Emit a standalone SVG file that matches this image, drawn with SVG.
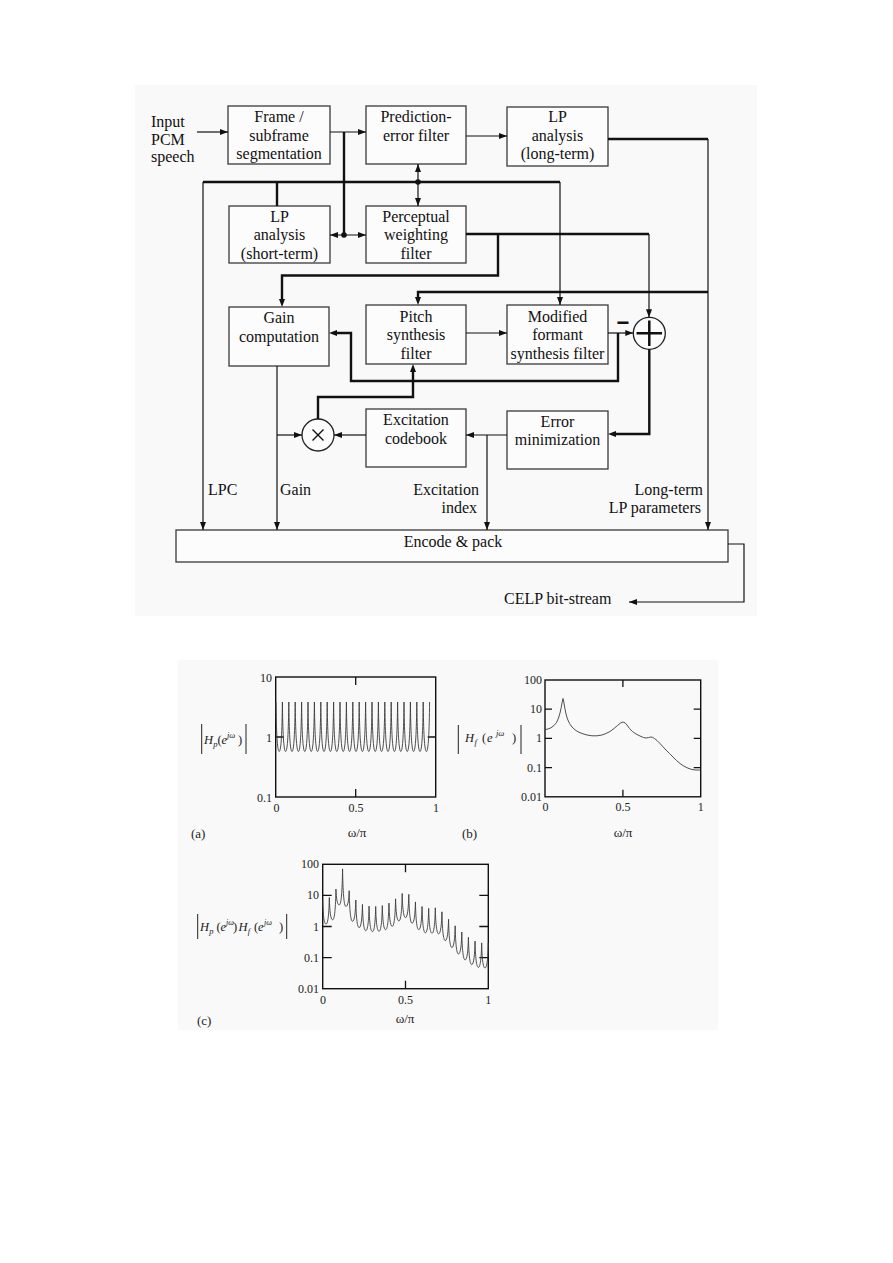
<svg xmlns="http://www.w3.org/2000/svg" width="893" height="1263" viewBox="0 0 893 1263">
<defs>
<marker id="arr" viewBox="0 0 8 6" refX="8" refY="3" markerWidth="8" markerHeight="6" markerUnits="userSpaceOnUse" orient="auto-start-reverse"><path d="M0,0 L8,3 L0,6 z" fill="#111"/></marker>
<marker id="arrT" viewBox="0 0 8 6" refX="1" refY="3" markerWidth="8" markerHeight="6" markerUnits="userSpaceOnUse" orient="auto"><path d="M0,0 L8,3 L0,6 z" fill="#111"/></marker>
<style>
.bg{fill:#f9f9f9}
.box{fill:#fcfcfc;stroke:#3a3a3a;stroke-width:1.3}
.t{font-family:"Liberation Serif","Times New Roman",serif;font-size:16px;fill:#111;text-anchor:middle}
.ts{font-family:"Liberation Serif","Times New Roman",serif;font-size:16px;fill:#111}
.te{font-family:"Liberation Serif","Times New Roman",serif;font-size:16px;fill:#111;text-anchor:end}
.thin{stroke:#111;stroke-width:1.2;fill:none}
.thick{stroke:#111;stroke-width:2.4;fill:none}
.ae{marker-end:url(#arr)}
.at{marker-end:url(#arrT)}
.frm{fill:none;stroke:#111;stroke-width:1.4}
.tick{stroke:#111;stroke-width:1.3}
.al{font-family:"Liberation Serif","Times New Roman",serif;font-size:13px;fill:#222}
.ar{font-family:"Liberation Serif","Times New Roman",serif;font-size:12px;fill:#222;text-anchor:end}
.ac{font-family:"Liberation Serif","Times New Roman",serif;font-size:12px;fill:#222;text-anchor:middle}
.ax{font-family:"Liberation Serif","Times New Roman",serif;font-size:13px;fill:#222;text-anchor:middle}
.ml{font-family:"Liberation Serif","Times New Roman",serif;font-size:12.5px;fill:#222}
.it{font-style:italic}
.bar{stroke:#222;stroke-width:1}
.crv{fill:none;stroke:#3c3c3c;stroke-width:0.9}
</style>
</defs>

<rect class="bg" x="135" y="85" width="622" height="531"/>
<rect class="bg" x="178" y="660" width="540" height="370"/>

<g id="input-label">
<text class="ts" x="151" y="126.5">Input</text>
<text class="ts" x="151" y="144.5">PCM</text>
<text class="ts" x="151" y="162">speech</text>
</g>

<g id="frame">
<rect class="box" x="228" y="106" width="102" height="58"/>
<text class="t" x="279" y="122">Frame /</text>
<text class="t" x="279" y="140.5">subframe</text>
<text class="t" x="279" y="159">segmentation</text>
</g>
<g id="prediction-error">
<rect class="box" x="366" y="106" width="100" height="58"/>
<text class="t" x="416" y="122">Prediction-</text>
<text class="t" x="416" y="140.5">error filter</text>
</g>
<g id="lp-long">
<rect class="box" x="507" y="107" width="101" height="59"/>
<text class="t" x="557.5" y="122">LP</text>
<text class="t" x="557.5" y="140.5">analysis</text>
<text class="t" x="557.5" y="159">(long-term)</text>
</g>
<g id="lp-short">
<rect class="box" x="229" y="206" width="101" height="57"/>
<text class="t" x="279.5" y="221.5">LP</text>
<text class="t" x="279.5" y="240">analysis</text>
<text class="t" x="279.5" y="259">(short-term)</text>
</g>
<g id="perceptual">
<rect class="box" x="366" y="206" width="100" height="57"/>
<text class="t" x="416" y="221.5">Perceptual</text>
<text class="t" x="416" y="240">weighting</text>
<text class="t" x="416" y="259">filter</text>
</g>
<g id="gain">
<rect class="box" x="229" y="307" width="100" height="59"/>
<text class="t" x="279" y="322.5">Gain</text>
<text class="t" x="279" y="341.5">computation</text>
</g>
<g id="pitch">
<rect class="box" x="366" y="305" width="100" height="59"/>
<text class="t" x="416" y="321.5">Pitch</text>
<text class="t" x="416" y="340">synthesis</text>
<text class="t" x="416" y="358.5">filter</text>
</g>
<g id="formant">
<rect class="box" x="507" y="305" width="101" height="59"/>
<text class="t" x="557.5" y="321.5">Modified</text>
<text class="t" x="557.5" y="340">formant</text>
<text class="t" x="557.5" y="358.5">synthesis filter</text>
</g>
<g id="codebook">
<rect class="box" x="366" y="409" width="100" height="58"/>
<text class="t" x="416" y="425">Excitation</text>
<text class="t" x="416" y="444">codebook</text>
</g>
<g id="error-min">
<rect class="box" x="507" y="411" width="101" height="58"/>
<text class="t" x="557.5" y="426.5">Error</text>
<text class="t" x="557.5" y="445">minimization</text>
</g>
<g id="summer">
<circle cx="649.3" cy="333.3" r="16" fill="#fcfcfc" stroke="#222" stroke-width="1.3"/>
<path d="M636.5,333.3 H662 M649.3,320.5 V346" stroke="#111" stroke-width="2.5"/>
<text x="623" y="330" font-family="Liberation Sans, Arial, sans-serif" font-size="22" font-weight="bold" text-anchor="middle" fill="#111">−</text>
</g>
<g id="multiplier">
<circle cx="318" cy="435" r="16" fill="#fcfcfc" stroke="#222" stroke-width="1.3"/>
<path d="M312.5,429.5 L323.5,440.5 M323.5,429.5 L312.5,440.5" stroke="#111" stroke-width="1.4"/>
</g>
<g id="encode">
<rect class="box" x="176" y="530" width="552" height="32"/>
<text class="t" x="453" y="547">Encode &amp; pack</text>
</g>

<g id="connectors">
<path class="thin ae" d="M197,132 H228"/>
<path class="thin ae" d="M330,132 H366"/>
<path class="thin ae" d="M466,136 H507"/>
<path class="thick" d="M608,139 H708"/>
<path class="thin ae" d="M708,139 V530"/>
<path class="thick" d="M203,182 H560"/>
<path class="thick" d="M277,182 V206"/>
<path class="thick" d="M344,132 V235"/>
<path class="thin" d="M418,164 V206" marker-start="url(#arr)" marker-end="url(#arr)"/>
<path class="thin" d="M330,235 H366" marker-start="url(#arr)" marker-end="url(#arr)"/>
<circle cx="418" cy="182" r="2.8" fill="#111"/>
<circle cx="344" cy="235" r="2.8" fill="#111"/>
<path class="thin ae" d="M560,182 V305"/>
<path class="thick" d="M466,234 H649"/>
<path class="thin ae" d="M649,234 V317.3"/>
<path class="thick at" d="M498,234 V275.5 H282 V300"/>
<path class="thick at" d="M708,292 H418 V298"/>
<path class="thin ae" d="M466,333 H507"/>
<path class="thin ae" d="M608,333 H633.3"/>
<path class="thick at" d="M618,333 V381 H351 V333 H336"/>
<path class="thick at" d="M318,419 V397 H413 V371"/>
<path class="thick at" d="M649.3,349.3 V434 H615"/>
<path class="thin ae" d="M507,435 H466"/>
<path class="thin ae" d="M487,435 V530"/>
<path class="thin ae" d="M366,435 H334"/>
<path class="thin ae" d="M277,366 V530"/>
<path class="thin ae" d="M277,435 H302"/>
<path class="thin ae" d="M203,182 V530"/>
<path class="thin ae" d="M728,544 H744 V602 H629"/>
</g>

<g id="signal-labels">
<text class="ts" x="208" y="495">LPC</text>
<text class="ts" x="280" y="495">Gain</text>
<text class="te" x="479" y="495">Excitation</text>
<text class="te" x="477" y="512.5">index</text>
<text class="te" x="703" y="495">Long-term</text>
<text class="te" x="701" y="513">LP parameters</text>
<text class="ts" x="504" y="604">CELP bit-stream</text>
</g>

<g id="plot-a">
<rect class="frm" x="275.7" y="677" width="160" height="120"/>
<path class="tick" d="M275.7,737 h8 M435.7,737 h-8 M355.7,677 v8 M355.7,797 v-8"/>
<path class="crv" d="M276,702 c0.32,29.7 1.28,49.5 3.2,49.5 c1.92,0 2.88,-19.8 3.2,-49.5 c0.32,29.7 1.28,49.5 3.2,49.5 c1.92,0 2.88,-19.8 3.2,-49.5 c0.32,29.7 1.28,49.5 3.2,49.5 c1.92,0 2.88,-19.8 3.2,-49.5 c0.32,29.7 1.28,49.5 3.2,49.5 c1.92,0 2.88,-19.8 3.2,-49.5 c0.32,29.7 1.28,49.5 3.2,49.5 c1.92,0 2.88,-19.8 3.2,-49.5 c0.32,29.7 1.28,49.5 3.2,49.5 c1.92,0 2.88,-19.8 3.2,-49.5 c0.32,29.7 1.28,49.5 3.2,49.5 c1.92,0 2.88,-19.8 3.2,-49.5 c0.32,29.7 1.28,49.5 3.2,49.5 c1.92,0 2.88,-19.8 3.2,-49.5 c0.32,29.7 1.28,49.5 3.2,49.5 c1.92,0 2.88,-19.8 3.2,-49.5 c0.32,29.7 1.28,49.5 3.2,49.5 c1.92,0 2.88,-19.8 3.2,-49.5 c0.32,29.7 1.28,49.5 3.2,49.5 c1.92,0 2.88,-19.8 3.2,-49.5 c0.32,29.7 1.28,49.5 3.2,49.5 c1.92,0 2.88,-19.8 3.2,-49.5 c0.32,29.7 1.28,49.5 3.2,49.5 c1.92,0 2.88,-19.8 3.2,-49.5 c0.32,29.7 1.28,49.5 3.2,49.5 c1.92,0 2.88,-19.8 3.2,-49.5 c0.32,29.7 1.28,49.5 3.2,49.5 c1.92,0 2.88,-19.8 3.2,-49.5 c0.32,29.7 1.28,49.5 3.2,49.5 c1.92,0 2.88,-19.8 3.2,-49.5 c0.32,29.7 1.28,49.5 3.2,49.5 c1.92,0 2.88,-19.8 3.2,-49.5 c0.32,29.7 1.28,49.5 3.2,49.5 c1.92,0 2.88,-19.8 3.2,-49.5 c0.32,29.7 1.28,49.5 3.2,49.5 c1.92,0 2.88,-19.8 3.2,-49.5 c0.32,29.7 1.28,49.5 3.2,49.5 c1.92,0 2.88,-19.8 3.2,-49.5 c0.32,29.7 1.28,49.5 3.2,49.5 c1.92,0 2.88,-19.8 3.2,-49.5 c0.32,29.7 1.28,49.5 3.2,49.5 c1.92,0 2.88,-19.8 3.2,-49.5 c0.32,29.7 1.28,49.5 3.2,49.5 c1.92,0 2.88,-19.8 3.2,-49.5 c0.32,29.7 1.28,49.5 3.2,49.5 c1.92,0 2.88,-19.8 3.2,-49.5"/>
<text class="ar" x="272" y="681.5">10</text>
<text class="ar" x="272" y="741.5">1</text>
<text class="ar" x="272" y="801.5">0.1</text>
<text class="ac" x="276.5" y="811.5">0</text>
<text class="ac" x="356" y="811.5">0.5</text>
<text class="ac" x="436" y="811.5">1</text>
<text class="al" x="191" y="838">(a)</text>
<text class="ax" x="357" y="837">ω/π</text>
<line class="bar" x1="201.7" y1="724" x2="201.7" y2="754"/>
<line class="bar" x1="246" y1="724" x2="246" y2="754"/>
<text class="ml" y="743.5"><tspan class="it" x="204">H</tspan><tspan class="it" x="213.2" dy="3" font-size="8.5">p</tspan><tspan x="217.5" dy="-3">(</tspan><tspan class="it" x="221.5">e</tspan><tspan class="it" x="227" dy="-6" font-size="8.5">jω</tspan><tspan x="238" dy="6">)</tspan></text>
</g>

<g id="plot-b">
<rect class="frm" x="545" y="680" width="155.7" height="116.8"/>
<path class="tick" d="M545,709.2 h7 M545,738.4 h7 M545,767.6 h7 M700.7,709.2 h-7 M700.7,738.4 h-7 M700.7,767.6 h-7 M622.9,680 v7 M622.9,796.8 v-7"/>
<polyline class="crv" points="545,729.5 548,729 551,727.8 554,725.5 556.5,722.5 558.5,718 560,713 561.2,707.5 562.2,702 563,698.5 563.8,702 564.8,708 566,714 567.5,719 569.5,723.5 572,727 575,729.8 578,731.8 582,733.5 587,735 592,735.8 597,735.8 602,735 606,733.5 610,731.5 614,728.5 617.5,725.5 620.5,723 623,722 625,722.8 627,725 629.5,728.5 632.5,731.5 636,734 640,736 643.5,737.5 646,738 648.5,737.6 650.5,737 652.5,737.3 654.5,738.5 657,740.5 660,743.5 663,746.8 666,750 669.5,753.5 673,757 676.5,760.5 680,763.5 684,766.2 688,768.2 692,769.5 696,770 700.7,770"/>
<text class="ar" x="542" y="684">100</text>
<text class="ar" x="542" y="713.2">10</text>
<text class="ar" x="542" y="742.4">1</text>
<text class="ar" x="542" y="771.6">0.1</text>
<text class="ar" x="542" y="800.8">0.01</text>
<text class="ac" x="545.5" y="811">0</text>
<text class="ac" x="623" y="811">0.5</text>
<text class="ac" x="700.7" y="811">1</text>
<text class="al" x="462" y="838">(b)</text>
<text class="ax" x="623" y="837">ω/π</text>
<line class="bar" x1="458.3" y1="725" x2="458.3" y2="754"/>
<line class="bar" x1="521" y1="725" x2="521" y2="754"/>
<text class="ml" y="742"><tspan class="it" x="465">H</tspan><tspan class="it" x="474.5" dy="3" font-size="8.5">f</tspan><tspan x="482" dy="-3">(</tspan><tspan class="it" x="487">e</tspan><tspan class="it" x="496" dy="-6" font-size="8.5">jω</tspan><tspan x="512" dy="6">)</tspan></text>
</g>

<g id="plot-c">
<rect class="frm" x="322.7" y="864.3" width="165.6" height="124.4"/>
<path class="tick" d="M322.7,895.4 h9 M322.7,926.5 h9 M322.7,957.6 h9 M488.3,895.4 h-9 M488.3,926.5 h-9 M488.3,957.6 h-9 M405.5,864.3 v8 M405.5,988.7 v-8"/>
<path class="crv" d="M322.7,900 c0.33,14.46 1.32,24.1 3.312,24.1 c1.99,0 2.98,-10.64 3.312,-26.6 c0.33,13.38 1.32,22.3 3.312,22.3 c1.99,0 2.98,-12.28 3.312,-30.7 c0.33,9.48 1.32,15.8 3.312,15.8 c1.99,0 2.98,-14.4 3.312,-36 c0.33,22.5 1.32,37.5 3.312,37.5 c1.99,0 2.98,-6.28 3.312,-15.7 c0.33,18.36 1.32,30.6 3.312,30.6 c1.99,0 2.98,-8.52 3.312,-21.3 c0.33,16.56 1.32,27.6 3.312,27.6 c1.99,0 2.98,-9.28 3.312,-23.2 c0.33,15.78 1.32,26.3 3.312,26.3 c1.99,0 2.98,-9.8 3.312,-24.5 c0.33,15.24 1.32,25.4 3.312,25.4 c1.99,0 2.98,-10.04 3.312,-25.1 c0.33,14.88 1.32,24.8 3.312,24.8 c1.99,0 2.98,-10.28 3.312,-25.7 c0.33,14.46 1.32,24.1 3.312,24.1 c1.99,0 2.98,-10.64 3.312,-26.6 c0.33,13.92 1.32,23.2 3.312,23.2 c1.99,0 2.98,-11 3.312,-27.5 c0.33,13.32 1.32,22.2 3.312,22.2 c1.99,0 2.98,-11 3.312,-27.5 c0.33,14.46 1.32,24.1 3.312,24.1 c1.99,0 2.98,-9.28 3.312,-23.2 c0.33,17.28 1.32,28.8 3.312,28.8 c1.99,0 2.98,-8.52 3.312,-21.3 c0.33,16.68 1.32,27.8 3.312,27.8 c1.99,0 2.98,-9.28 3.312,-23.2 c0.33,15.78 1.32,26.3 3.312,26.3 c1.99,0 2.98,-9.76 3.312,-24.4 c0.33,14.88 1.32,24.8 3.312,24.8 c1.99,0 2.98,-10.16 3.312,-25.4 c0.33,15.6 1.32,26 3.312,26 c1.99,0 2.98,-8.8 3.312,-22 c0.33,17.28 1.32,28.8 3.312,28.8 c1.99,0 2.98,-8.52 3.312,-21.3 c0.33,16.92 1.32,28.2 3.312,28.2 c1.99,0 2.98,-8.68 3.312,-21.7 c0.33,16.92 1.32,28.2 3.312,28.2 c1.99,0 2.98,-8.8 3.312,-22 c0.33,16.74 1.32,27.9 3.312,27.9 c1.99,0 2.98,-9.04 3.312,-22.6 c0.33,16.38 1.32,27.3 3.312,27.3 c1.99,0 2.98,-9.4 3.312,-23.5 c0.33,15.78 1.32,26.3 3.312,26.3 c1.99,0 2.98,-9.8 3.312,-24.5 c0.33,15.06 1.32,25.1 3.312,25.1 c1.99,0 2.98,-10.04 3.312,-25.1"/>
<text class="ar" x="319" y="868.3">100</text>
<text class="ar" x="319" y="899.4">10</text>
<text class="ar" x="319" y="930.5">1</text>
<text class="ar" x="319" y="961.6">0.1</text>
<text class="ar" x="319" y="992.7">0.01</text>
<text class="ac" x="323" y="1004">0</text>
<text class="ac" x="405.5" y="1004">0.5</text>
<text class="ac" x="488.3" y="1004">1</text>
<text class="al" x="197" y="1024.5">(c)</text>
<text class="ax" x="405" y="1023">ω/π</text>
<line class="bar" x1="197.7" y1="914" x2="197.7" y2="939"/>
<line class="bar" x1="286.7" y1="914" x2="286.7" y2="939"/>
<text class="ml" y="930.7"><tspan class="it" x="200">H</tspan><tspan class="it" x="209.2" dy="3" font-size="8.5">p</tspan><tspan x="216.5" dy="-3">(</tspan><tspan class="it" x="220.5">e</tspan><tspan class="it" x="226" dy="-6" font-size="8">jω</tspan><tspan x="233" dy="6">)</tspan><tspan class="it" x="238.5">H</tspan><tspan class="it" x="247.7" dy="3" font-size="8.5">f</tspan><tspan x="254" dy="-3">(</tspan><tspan class="it" x="258">e</tspan><tspan class="it" x="264" dy="-6" font-size="8">jω</tspan><tspan x="279" dy="6">)</tspan></text>
</g>
</svg>
